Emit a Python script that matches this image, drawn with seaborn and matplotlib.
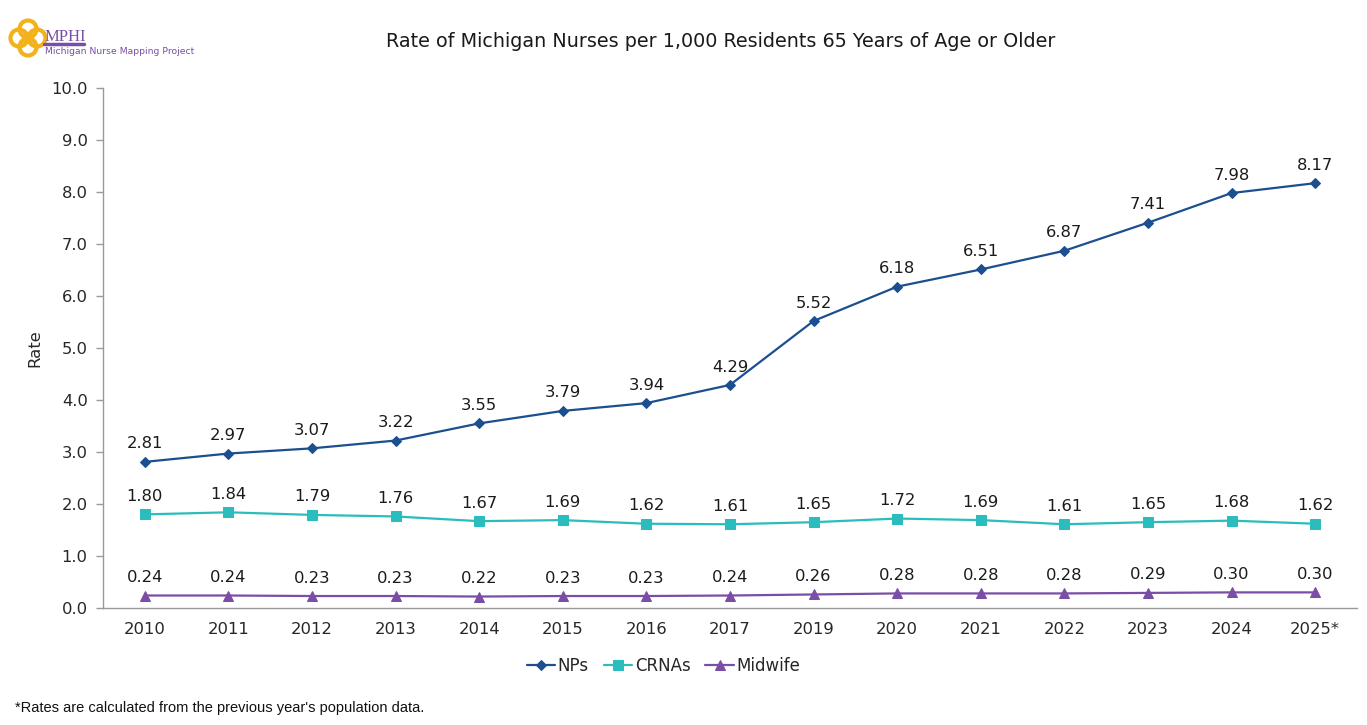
import numpy as np
import pandas as pd
import matplotlib
matplotlib.use("Agg")
import matplotlib.pyplot as plt
import seaborn as sns
from matplotlib.patches import Circle

years = ["2010", "2011", "2012", "2013", "2014", "2015", "2016", "2017",
         "2019", "2020", "2021", "2022", "2023", "2024", "2025*"]
nps = [2.81, 2.97, 3.07, 3.22, 3.55, 3.79, 3.94, 4.29, 5.52, 6.18, 6.51, 6.87, 7.41, 7.98, 8.17]
crnas = [1.80, 1.84, 1.79, 1.76, 1.67, 1.69, 1.62, 1.61, 1.65, 1.72, 1.69, 1.61, 1.65, 1.68, 1.62]
midwife = [0.24, 0.24, 0.23, 0.23, 0.22, 0.23, 0.23, 0.24, 0.26, 0.28, 0.28, 0.28, 0.29, 0.30, 0.30]

series = {"NPs": nps, "CRNAs": crnas, "Midwife": midwife}
colors = {"NPs": "#1c4f8f", "CRNAs": "#2bbdbd", "Midwife": "#7a4ea6"}
markers = {"NPs": "D", "CRNAs": "s", "Midwife": "^"}
msize = {"NPs": 5.5, "CRNAs": 7.5, "Midwife": 7.5}

df = pd.concat([pd.DataFrame({"pos": np.arange(len(years)), "rate": v, "kind": k})
                for k, v in series.items()], ignore_index=True)

sns.set_style("white")
plt.rcParams["font.family"] = ["DejaVu Sans"]

fig = plt.figure(figsize=(13.67, 7.25), dpi=100)
ax = fig.add_axes([0.0753, 0.1614, 0.9174, 0.7172])

for k in series:
    sub = df[df["kind"] == k]
    sns.lineplot(data=sub, x="pos", y="rate", ax=ax, color=colors[k],
                 marker=markers[k], markersize=msize[k], markeredgecolor=colors[k],
                 linewidth=1.6, label=k)
    for x, y in zip(sub["pos"], sub["rate"]):
        ax.annotate(f"{y:.2f}", (x, y), xytext=(0, 7.5), textcoords="offset points",
                    ha="center", va="bottom", fontsize=11.8, color="#1a1a1a")

ax.set_xlim(-0.5, len(years) - 0.5)
ax.set_ylim(0, 10)
ax.set_yticks(np.arange(0, 10.01, 1.0))
ax.set_yticklabels([f"{v:.1f}" for v in np.arange(0, 10.01, 1.0)], fontsize=11.8)
ax.set_xticks(np.arange(len(years)))
ax.set_xticklabels(years, fontsize=11.8)
ax.set_xticks(np.arange(len(years) + 1) - 0.5, minor=True)
ax.tick_params(axis="x", which="major", length=0, pad=10)
ax.tick_params(axis="x", which="minor", length=5, color="#999999", width=1)
ax.tick_params(axis="y", length=5, color="#999999", width=1, left=True, pad=6)
ax.set_xlabel("")
ax.set_ylabel("Rate", fontsize=11.8, labelpad=6)

for side in ["top", "right"]:
    ax.spines[side].set_visible(False)
for side in ["left", "bottom"]:
    ax.spines[side].set_color("#999999")
    ax.spines[side].set_linewidth(1)

ax.legend(loc="upper center", bbox_to_anchor=(0.447, -0.065), ncol=3, frameon=False,
          fontsize=12, handlelength=1.7, handletextpad=0.15, columnspacing=0.9)

fig.text(0.527, 0.943, "Rate of Michigan Nurses per 1,000 Residents 65 Years of Age or Older",
         ha="center", va="center", fontsize=13.8, color="#1a1a1a")

fig.text(0.011, 0.023, "*Rates are calculated from the previous year's population data.",
         ha="left", va="center", fontsize=10.5, family=["Liberation Sans"], color="#111111")

# logo: knot of four rings, pixel box x 8..48, y 18..58 from top
logo = fig.add_axes([8 / 1367, 1 - 58 / 725, 40 / 1367, 40 / 725])
logo.set_xlim(0, 40)
logo.set_ylim(0, 40)
logo.set_aspect("equal")
logo.axis("off")
for cx, cy in [(11, 20), (29, 20), (20, 11), (20, 29)]:
    logo.add_patch(Circle((cx, cy), 8.5, fill=False, edgecolor="#f3b21b", linewidth=3))
fig.text(45 / 1367, 1 - 37 / 725, "MPHI", fontsize=12, family=["Liberation Serif"],
         color="#7a4ea6", ha="left", va="center")
fig.add_artist(plt.Line2D([44 / 1367, 84 / 1367], [1 - 44 / 725, 1 - 44 / 725],
                          transform=fig.transFigure, color="#7a4ea6", linewidth=2.5))
fig.text(45 / 1367, 1 - 51 / 725, "Michigan Nurse Mapping Project", fontsize=6.7,
         color="#7a4ea6", ha="left", va="center")

fig.savefig("out.png", dpi=100)
